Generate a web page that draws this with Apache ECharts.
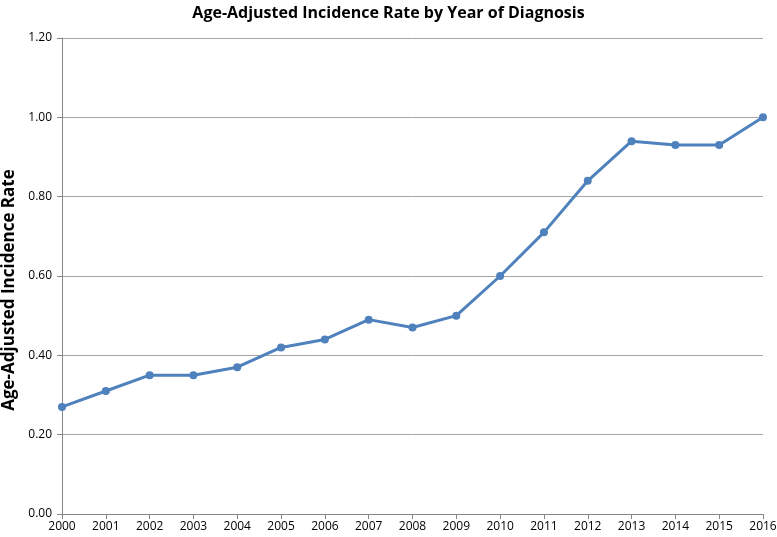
<!DOCTYPE html>
<html><head><meta charset="utf-8">
<script src="https://cdn.jsdelivr.net/npm/echarts@6/dist/echarts.min.js"></script>
<style>html,body{margin:0;padding:0;background:#fff}#c{width:777px;height:537px}</style>
</head><body><div id="c"></div>
<script>
const years = ['2000','2001','2002','2003','2004','2005','2006','2007','2008','2009','2010','2011','2012','2013','2014','2015','2016'];
const rates = [0.27,0.31,0.35,0.35,0.37,0.42,0.44,0.49,0.47,0.50,0.60,0.71,0.84,0.94,0.93,0.93,1.00];
const chart = echarts.init(document.getElementById('c'));
const font = 'Open Sans, Liberation Sans, sans-serif';
chart.setOption({
  animation:false,
  title:{text:'Age-Adjusted Incidence Rate by Year of Diagnosis',left:'center',top:0,
    textStyle:{fontFamily:font,fontWeight:'bold',fontSize:16,color:'#000'}},
  grid:{left:62,right:14,top:38,bottom:23,containLabel:false,outerBoundsMode:'none'},
  xAxis:{type:'category',data:years,boundaryGap:false,
    axisLine:{lineStyle:{color:'#868686',width:1}},
    axisTick:{show:true,length:5,lineStyle:{color:'#868686'},alignWithLabel:true},
    axisLabel:{color:'#000',fontFamily:font,fontSize:12,margin:7,interval:0},
    splitLine:{show:false}},
  yAxis:{type:'value',min:0,max:1.2,interval:0.2,
    name:'Age-Adjusted Incidence Rate',nameLocation:'middle',nameGap:36,
    nameTextStyle:{fontFamily:font,fontWeight:'bold',fontSize:17,color:'#000',padding:[0,28,0,0]},
    axisLine:{show:true,lineStyle:{color:'#868686',width:1}},
    axisTick:{show:true,length:5,lineStyle:{color:'#868686'}},
    axisLabel:{color:'#000',fontFamily:font,fontSize:12,margin:10,formatter:v=>v.toFixed(2)},
    splitLine:{lineStyle:{color:'#a6a6a6',width:1}}},
  series:[{type:'line',data:rates,symbol:'circle',symbolSize:8,
    lineStyle:{color:'#4F81BD',width:3},itemStyle:{color:'#4F81BD'}}]
});
</script></body></html>
